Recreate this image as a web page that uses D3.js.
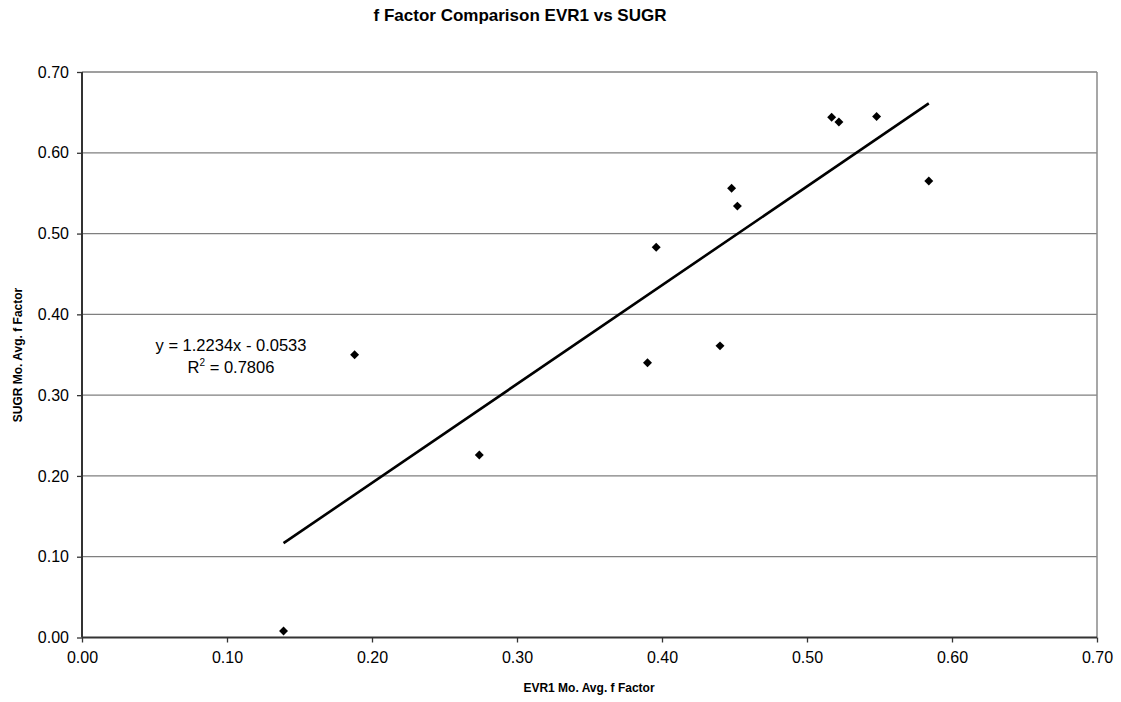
<!DOCTYPE html>
<html><head><meta charset="utf-8">
<script src="https://cdn.jsdelivr.net/npm/d3@7"></script>
<style>body{margin:0;background:#fff;} svg{display:block;font-family:Arial,"Liberation Sans",sans-serif;}</style>
</head><body>
<svg id="c" width="1121" height="702"></svg>
<script>
const evr1 = [0.139, 0.188, 0.274, 0.390, 0.396, 0.440, 0.448, 0.452, 0.517, 0.522, 0.548, 0.584];
const sugr = [0.008, 0.350, 0.226, 0.340, 0.483, 0.361, 0.556, 0.534, 0.644, 0.638, 0.645, 0.565];
const slope = 1.2234, intercept = -0.0533, r2 = "0.7806";
const ticks = [0, 0.1, 0.2, 0.3, 0.4, 0.5, 0.6, 0.7];
const title = "f Factor Comparison EVR1 vs SUGR";
const xTitle = "EVR1 Mo. Avg. f Factor";
const yTitle = "SUGR Mo. Avg. f Factor";

const svg = d3.select("#c");
const L = 82, R = 1097, T = 72, B = 637.5;
const x = d3.scaleLinear().domain([0, 0.7]).range([L, R]);
const y = d3.scaleLinear().domain([0, 0.7]).range([B, T]);

// gridlines
svg.append("g").selectAll("line").data(ticks.slice(1)).join("line")
  .attr("x1", L).attr("x2", R).attr("y1", d => y(d)).attr("y2", d => y(d))
  .attr("stroke", "#7f7f7f").attr("stroke-width", 1.3);
// right border
svg.append("line").attr("x1", R).attr("x2", R).attr("y1", T).attr("y2", B)
  .attr("stroke", "#8a8a8a").attr("stroke-width", 1.5);

// axes
const fmt = d3.format(".2f");
const yAxis = svg.append("g").attr("transform", `translate(${L},0)`)
  .call(d3.axisLeft(y).tickValues(ticks).tickFormat(fmt).tickSize(5).tickPadding(8));
const xAxis = svg.append("g").attr("transform", `translate(0,${B})`)
  .call(d3.axisBottom(x).tickValues(ticks).tickFormat(fmt).tickSize(5).tickPadding(9));
[yAxis, xAxis].forEach(a => {
  a.select(".domain").attr("stroke", "#333").attr("stroke-width", 2);
  a.selectAll(".tick line").attr("stroke", "#333").attr("stroke-width", 1.3);
  a.selectAll(".tick text").attr("fill", "#000").style("font-size", "16px").style("font-family", "Arial,'Liberation Sans',sans-serif");
});
yAxis.select(".domain").attr("d", `M0,${T}V${B}`);
xAxis.select(".domain").attr("d", `M${L},0H${R}`);

// trendline
const xmin = d3.min(evr1), xmax = d3.max(evr1);
svg.append("line")
  .attr("x1", x(xmin)).attr("y1", y(slope * xmin + intercept))
  .attr("x2", x(xmax)).attr("y2", y(slope * xmax + intercept))
  .attr("stroke", "#000").attr("stroke-width", 2.6);

// points
const sym = d3.symbol().type(d3.symbolSquare).size(40);
svg.append("g").selectAll("path").data(evr1.map((v, i) => [v, sugr[i]])).join("path")
  .attr("d", sym)
  .attr("transform", d => `translate(${x(d[0])},${y(d[1])}) rotate(45)`)
  .attr("fill", "#000");

// equation
const eq = svg.append("g").style("font-size", "16.5px");
eq.append("text").attr("x", 231).attr("y", 351).attr("text-anchor", "middle")
  .text(`y = ${slope}x - ${Math.abs(intercept).toFixed(4)}`);
const rt = eq.append("text").attr("x", 231).attr("y", 373).attr("text-anchor", "middle");
rt.append("tspan").text("R");
rt.append("tspan").attr("dy", -7).style("font-size", "10px").text("2");
rt.append("tspan").attr("dy", 7).text(" = " + r2);

// titles
svg.append("text").attr("x", 520).attr("y", 21).attr("text-anchor", "middle")
  .style("font-size", "17px").style("font-weight", "bold").text(title);
svg.append("text").attr("x", 589).attr("y", 692).attr("text-anchor", "middle")
  .style("font-size", "12px").style("font-weight", "bold").text(xTitle);
svg.append("text").attr("transform", "translate(22,355) rotate(-90)").attr("text-anchor", "middle")
  .style("font-size", "12px").style("font-weight", "bold").text(yTitle);
</script>
</body></html>
